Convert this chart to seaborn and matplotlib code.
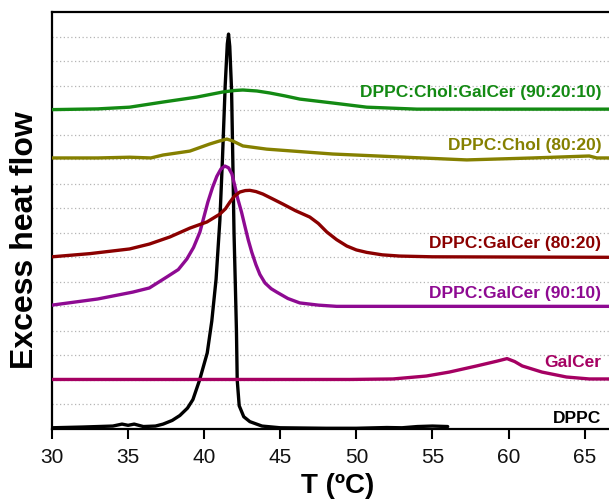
import numpy as np
import pandas as pd
import seaborn as sns
import matplotlib.pyplot as plt

# --- data (T in ºC, offset heat flow in arbitrary units) ---
dppc_t = [30, 32, 34, 34.6, 35, 35.4, 36, 36.8, 37.3, 37.9, 38.4, 38.9, 39.26, 39.7, 40.2,
          40.5, 40.78, 41.03, 41.2, 41.38, 41.52, 41.6, 41.68, 41.8, 41.88, 41.96, 42.05,
          42.12, 42.17, 42.3, 42.6, 43.0, 43.8, 45, 48, 50, 52, 53, 54, 55, 56]
dppc_y = [0.05, 0.08, 0.12, 0.2, 0.15, 0.2, 0.1, 0.12, 0.2, 0.35, 0.55, 0.85, 1.2, 2.0, 3.1,
          4.4, 6.1, 8.5, 11.0, 14.0, 15.7, 16.1, 15.6, 13.8, 11.0, 8.0, 5.8,
          4.0, 2.0, 0.95, 0.5, 0.3, 0.12, 0.05, 0.03, 0.03, 0.06, 0.05, 0.1, 0.12, 0.1]

galcer_t = [30, 40, 49.6, 52.4, 54.6, 56.1, 57.9, 59.2, 59.9, 60.4, 60.9, 62.2, 63.8, 65.3, 66.6]
galcer_y = [2.02, 2.02, 2.02, 2.04, 2.16, 2.32, 2.57, 2.76, 2.87, 2.75, 2.57, 2.32, 2.12, 2.04, 2.04]

dg9010_t = [30, 33, 35.3, 36.4, 37.55, 38.3, 38.86, 39.3, 39.72, 40.24, 40.55, 40.83, 41.1,
            41.36, 41.6, 41.82, 42.0, 42.2, 42.45, 42.67, 42.9, 43.13, 43.4, 43.66, 44.0,
            44.4, 44.77, 45.5, 46.28, 47.5, 48.7, 66.6]
dg9010_y = [5.05, 5.3, 5.58, 5.75, 6.2, 6.5, 6.93, 7.4, 8.03, 9.25, 9.85, 10.3, 10.6,
            10.72, 10.65, 10.4, 9.95, 9.4, 8.85, 8.28, 7.7, 7.2, 6.7, 6.3, 5.95,
            5.72, 5.58, 5.32, 5.14, 5.05, 5.0, 5.0]

dg8020_t = [30, 32.5, 35.1, 36.4, 37.75, 39.06, 40.18, 41.03, 41.4, 41.69, 42.0, 42.34, 42.7,
            43.0, 43.4, 43.85, 44.5, 45.17, 46.0, 46.94, 47.5, 48.06, 48.7, 49.37, 50.0,
            50.68, 51.7, 52.85, 55, 66.6]
dg8020_y = [7.02, 7.15, 7.34, 7.54, 7.83, 8.19, 8.44, 8.76, 8.98, 9.25, 9.5, 9.66, 9.72,
            9.73, 9.68, 9.58, 9.38, 9.17, 8.9, 8.64, 8.38, 8.03, 7.72, 7.46, 7.3,
            7.2, 7.1, 7.05, 7.02, 7.0]

chol_t = [30, 33, 35.1, 36.5, 37.3, 39.06, 40.37, 41.0, 41.49, 41.88, 42.54, 44.1, 48.45,
          52.85, 57.25, 61.6, 65.3, 65.8, 66.6]
chol_y = [11.05, 11.05, 11.08, 11.05, 11.17, 11.33, 11.62, 11.74, 11.82, 11.74, 11.54, 11.41,
          11.21, 11.09, 10.97, 11.05, 11.13, 11.05, 11.05]

cholgal_t = [30, 33, 35.1, 37.3, 39.5, 41.23, 42.0, 42.54, 43.46, 44.3, 45.3, 46.28, 48.45,
             50.68, 53.97, 66.6]
cholgal_y = [13.02, 13.05, 13.12, 13.33, 13.53, 13.74, 13.8, 13.82, 13.78, 13.7, 13.58, 13.45,
             13.29, 13.12, 13.04, 13.04]

labels = ['DPPC', 'GalCer', 'DPPC:GalCer (90:10)', 'DPPC:GalCer (80:20)',
          'DPPC:Chol (80:20)', 'DPPC:Chol:GalCer (90:20:10)']
colors = ['#000000', '#a50062', '#8e0a92', '#8b0000', '#858000', '#138a13']
label_y = [0.45, 2.77, 5.55, 7.6, 11.6, 13.75]

series = [(dppc_t, dppc_y), (galcer_t, galcer_y), (dg9010_t, dg9010_y),
          (dg8020_t, dg8020_y), (chol_t, chol_y), (cholgal_t, cholgal_y)]

# --- style ---
sns.set_style('white')
plt.rcParams['font.family'] = ['Liberation Sans', 'DejaVu Sans']
plt.rcParams['text.color'] = 'black'
plt.rcParams['axes.labelcolor'] = 'black'

fig = plt.figure(figsize=(6.09, 5.02), dpi=100)
ax = fig.add_axes([52 / 609, 72 / 502, 557 / 609, 417 / 502])

# dotted horizontal guide lines
for yy in range(1, 17):
    ax.axhline(yy, color='#b5b5b5', lw=0.9, ls=(0, (1, 2)), zorder=0)

for (t, y), c in zip(series, colors):
    df = pd.DataFrame({'T': t, 'flow': y})
    sns.lineplot(data=df, x='T', y='flow', color=c, lw=2.4, ax=ax, zorder=3)

for name, c, ly in zip(labels, colors, label_y):
    ax.text(66.1, ly, name, color=c, fontsize=12.5, fontweight='bold',
            ha='right', va='center')

ax.set_xlim(30, 66.6)
ax.set_ylim(0, 17)
ax.set_xticks([30, 35, 40, 45, 50, 55, 60, 65])
ax.set_yticks([])
ax.tick_params(axis='x', direction='out', length=7, width=1.5, labelsize=15,
               bottom=True, pad=6, colors='black', labelcolor='#111111')

for s in ['left', 'bottom', 'top']:
    ax.spines[s].set_visible(True)
    ax.spines[s].set_color('black')
    ax.spines[s].set_linewidth(1.6)
ax.spines['right'].set_visible(False)

ax.set_xlabel('T (ºC)', fontsize=20, fontweight='bold')
ax.xaxis.set_label_coords(0.512, -0.103)
ax.set_ylabel('Excess heat flow', fontsize=23, fontweight='bold')
ax.yaxis.set_label_coords(-0.022, 0.455)

fig.savefig('out.png', dpi=100)
